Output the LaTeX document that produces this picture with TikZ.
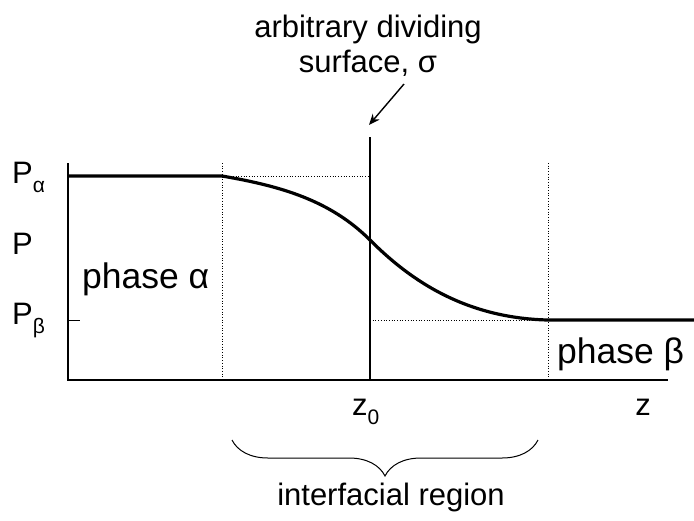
\documentclass[tikz,border=0pt]{standalone}
\usepackage{fontspec}
\setmainfont{Liberation Sans}
\usetikzlibrary{decorations.pathreplacing,arrows.meta}
\newcommand{\subg}[1]{\raisebox{-0.3em}{\fontsize{21}{21}\selectfont #1}}
\begin{document}
\begin{tikzpicture}[x=1pt,y=-1pt,
  lbl/.style={font=\fontsize{31}{39}\selectfont, inner sep=0pt},
  biglbl/.style={font=\fontsize{35.5}{40}\selectfont, inner sep=0pt},
  axisline/.style={line width=1.5pt},
  guide/.style={line width=0.7pt, dotted},
  profile/.style={line width=3.2pt}]
\useasboundingbox (0,0) rectangle (694,520);
% coordinates
\coordinate (otop) at (68,163);
\coordinate (o) at (68,380);
\coordinate (xend) at (668,380);
\coordinate (pa0) at (68,176);
\coordinate (pa1) at (222,176);
\coordinate (mid) at (370,240);
\coordinate (pb1) at (548,320);
\coordinate (pb2) at (694,320);
\coordinate (tick0) at (68,320);
\coordinate (tick1) at (80,320);
\coordinate (d1t) at (222,163);
\coordinate (d1b) at (222,380);
\coordinate (d2t) at (548,163);
\coordinate (d2b) at (548,380);
\coordinate (st) at (370,137);
\coordinate (sb) at (370,380);
\coordinate (h1) at (370,176);
\coordinate (h2) at (370,320);
\coordinate (ar0) at (404,84);
\coordinate (ar1) at (369,125);
\coordinate (br0) at (232,440);
\coordinate (br1) at (538,440);
% axes
\draw[axisline] (otop) -- (o) -- (xend);
\draw[line width=0.8pt] (tick0) -- (tick1);
% guides
\draw[guide] (d1t) -- (d1b);
\draw[guide] (d2t) -- (d2b);
\draw[guide] (pa1) -- (h1);
\draw[guide] (h2) -- (pb1);
% dividing surface
\draw[line width=1.5pt] (st) -- (sb);
% profile
\draw[profile] (pa0) -- (pa1) .. controls (280,186) and (330,200) .. (mid)
  .. controls (405,275) and (460,318) .. (pb1) -- (pb2);
% arrow
\draw[line width=1.4pt, -{Stealth[length=11pt,width=9pt]}] (ar0) -- (ar1);
% brace
\draw[line width=1pt, decorate, decoration={brace, mirror, amplitude=36pt, aspect=0.5}] (br0) -- (br1);
% labels
\node[lbl, anchor=base] (title1) at (368,37) {arbitrary dividing};
\node[lbl, anchor=base] (title2) at (368,72) {surface, σ};
\node[lbl, anchor=base west] (Pa) at (12,183) {P\subg{α}};
\node[lbl, anchor=base west] (P) at (12,254) {P};
\node[lbl, anchor=base west] (Pb) at (12,324) {P\subg{β}};
\node[biglbl, anchor=base west] (phA) at (82,288) {phase α};
\node[biglbl, anchor=base west] (phB) at (557,363) {phase β};
\node[lbl, anchor=base west] (z0) at (352,415) {z\subg{0}};
\node[lbl, anchor=base] (z) at (643,415) {z};
\node[lbl, anchor=base] (ir) at (391,505) {interfacial region};
\end{tikzpicture}
\end{document}
